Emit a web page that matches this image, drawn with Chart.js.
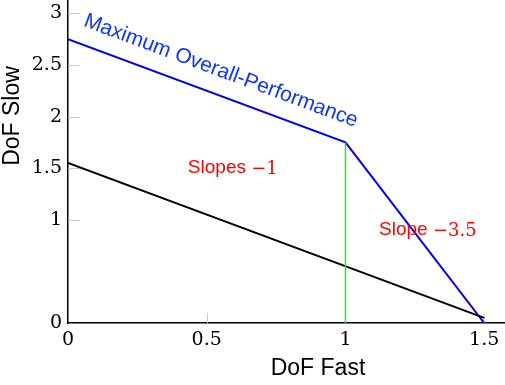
<!DOCTYPE html>
<html>
<head>
<meta charset="utf-8">
<script src="https://cdn.jsdelivr.net/npm/chart.js@4/dist/chart.umd.min.js"></script>
<style>
  html, body { margin: 0; padding: 0; background: #fff; }
  #wrap { width: 505px; height: 385px; }
</style>
</head>
<body>
<div id="wrap"><canvas id="chart" width="505" height="385"></canvas></div>
<script>
// Data
const maxPerfFast = [0, 1, 1.5];
const maxPerfSlow = [2.75, 1.75, 0];
const baseFast = [0, 1.5];
const baseSlow = [1.55, 0.05];
const splitFast = [1, 1];
const splitSlow = [0, 1.75];
const xTicks = [0, 0.5, 1, 1.5];
const yTicks = [0, 1, 1.5, 2, 2.5, 3];

const serif = '"DejaVu Serif", "Liberation Serif", serif';
const sans = '"Liberation Sans", "DejaVu Sans", sans-serif';

function toPoints(xs, ys) {
  return xs.map((x, i) => ({ x: x, y: ys[i] }));
}

// short grey tick marks inside the plot, axis titles and text notes
const extrasPlugin = {
  id: 'extras',
  beforeDatasetsDraw(chart) {
    const ctx = chart.ctx;
    const xs = chart.scales.x;
    const ys = chart.scales.y;
    const area = chart.chartArea;

    ctx.save();
    ctx.strokeStyle = '#cccccc';
    ctx.lineWidth = 1;
    xTicks.slice(1).forEach(v => {
      const px = Math.round(xs.getPixelForValue(v)) + 0.5;
      ctx.beginPath();
      ctx.moveTo(px, area.bottom);
      ctx.lineTo(px, area.bottom - 10);
      ctx.stroke();
    });
    yTicks.slice(1).forEach(v => {
      const py = Math.round(ys.getPixelForValue(v)) + 0.5;
      ctx.beginPath();
      ctx.moveTo(area.left, py);
      ctx.lineTo(area.left + 12, py);
      ctx.stroke();
    });
    ctx.restore();
  },
  afterDraw(chart) {
    const ctx = chart.ctx;
    const xs = chart.scales.x;
    const ys = chart.scales.y;

    ctx.save();
    // axis titles
    ctx.fillStyle = '#000';
    ctx.font = '23px ' + sans;
    ctx.textAlign = 'center';
    ctx.textBaseline = 'middle';
    ctx.fillText('DoF Fast', 318, 369);
    ctx.save();
    ctx.translate(13, 116);
    ctx.rotate(-Math.PI / 2);
    ctx.fillText('DoF Slow', 0, 0);
    ctx.restore();

    // rotated label along the upper line
    const x0 = xs.getPixelForValue(maxPerfFast[0]);
    const y0 = ys.getPixelForValue(maxPerfSlow[0]);
    const x1 = xs.getPixelForValue(maxPerfFast[1]);
    const y1 = ys.getPixelForValue(maxPerfSlow[1]);
    const angle = Math.atan2(y1 - y0, x1 - x0);
    ctx.save();
    ctx.translate(xs.getPixelForValue(0.551), ys.getPixelForValue(2.442));
    ctx.rotate(angle);
    ctx.fillStyle = '#1034ff';
    ctx.font = '21px ' + sans;
    ctx.fillText('Maximum Overall-Performance', 0, 0);
    ctx.restore();

    // slope notes (word in sans, number in serif)
    drawNote(ctx, 'Slopes ', '\u22121', xs.getPixelForValue(0.594), ys.getPixelForValue(1.50));
    drawNote(ctx, 'Slope ', '\u22123.5', xs.getPixelForValue(1.297), ys.getPixelForValue(0.90));
    ctx.restore();
  }
};

function drawNote(ctx, word, num, cx, cy) {
  ctx.save();
  ctx.fillStyle = '#ff0000';
  ctx.textBaseline = 'middle';
  ctx.textAlign = 'left';
  ctx.font = '19px ' + sans;
  const w1 = ctx.measureText(word).width;
  ctx.font = '18px ' + serif;
  const w2 = ctx.measureText(num).width;
  const left = cx - (w1 + w2) / 2;
  ctx.font = '19px ' + sans;
  ctx.fillText(word, left, cy);
  ctx.font = '18px ' + serif;
  ctx.fillText(num, left + w1, cy + 1);
  ctx.restore();
}

new Chart(document.getElementById('chart'), {
  type: 'scatter',
  data: {
    datasets: [
      {
        data: toPoints(splitFast, splitSlow),
        showLine: true,
        borderColor: '#22ee22',
        borderWidth: 1.5,
        pointRadius: 0
      },
      {
        data: toPoints(baseFast, baseSlow),
        showLine: true,
        borderColor: '#000000',
        borderWidth: 2,
        pointRadius: 0
      },
      {
        data: toPoints(maxPerfFast, maxPerfSlow),
        showLine: true,
        borderColor: '#0000ee',
        borderWidth: 2,
        pointRadius: 0
      }
    ]
  },
  options: {
    responsive: false,
    animation: false,
    layout: { padding: 0 },
    plugins: {
      legend: { display: false },
      tooltip: { enabled: false }
    },
    scales: {
      x: {
        type: 'linear',
        min: 0,
        max: 1.575,
        afterBuildTicks: s => { s.ticks = xTicks.map(v => ({ value: v })); },
        afterFit: s => {
          s.height = 62;
          s.paddingLeft = 0;
          s.paddingRight = 0;
        },
        grid: { display: false, drawTicks: false },
        border: { display: true, color: '#000', width: 1.5 },
        ticks: {
          color: '#000',
          padding: 6,
          maxRotation: 0,
          font: { family: serif, size: 19 },
          callback: v => String(v)
        }
      },
      y: {
        type: 'linear',
        min: 0,
        max: 3.13,
        afterBuildTicks: s => { s.ticks = yTicks.map(v => ({ value: v })); },
        afterFit: s => {
          s.width = 68;
          s.paddingTop = 0;
          s.paddingBottom = 0;
        },
        grid: { display: false, drawTicks: false },
        border: { display: true, color: '#000', width: 1.5 },
        ticks: {
          color: '#000',
          padding: 6,
          font: { family: serif, size: 19 },
          callback: v => String(v)
        }
      }
    }
  },
  plugins: [extrasPlugin]
});
</script>
</body>
</html>
